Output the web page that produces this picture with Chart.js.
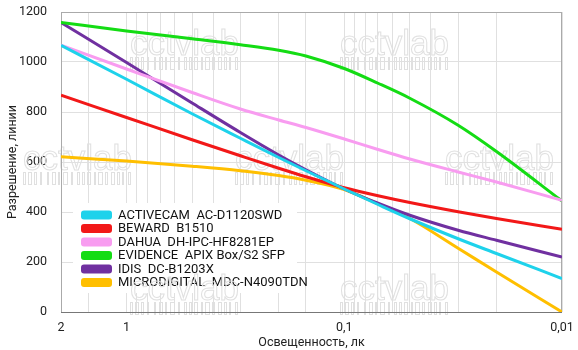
<!DOCTYPE html>
<html>
<head>
<meta charset="utf-8">
<script src="https://cdn.jsdelivr.net/npm/chart.js@4.4.0/dist/chart.umd.min.js"></script>
<style>
  html, body { margin: 0; padding: 0; background: #fff; }
  #wrap { width: 578px; height: 350px; }
</style>
</head>
<body>
<div id="wrap"><canvas id="chart" width="578" height="350"></canvas></div>
<script>
// illumination, lux (log axis, reversed)
const lux = [2, 1, 0.5, 0.3, 0.2, 0.15, 0.1, 0.07, 0.05, 0.03, 0.02, 0.01];

const activecam    = [1067, 931, 793, 695, 618, 565, 492, 430, 373, 293, 234, 134];
const beward       = [867, 778, 689, 625, 575, 541, 497, 465, 438, 401, 374, 331];
const dahua        = [1067, 972, 878, 812, 768, 738, 692, 650, 612, 560, 520, 447];
const evidence     = [1158, 1124, 1093, 1069, 1047, 1024, 974, 915, 855, 747, 642, 444];
const idis         = [1158, 998, 836, 718, 628, 569, 492, 435, 387, 327, 287, 220];
const microdigital = [621, 604, 583, 565, 546, 527, 490, 432, 374, 255, 160, 0];

const names = ['ACTIVECAM  AC-D1120SWD', 'BEWARD  B1510', 'DAHUA  DH-IPC-HF8281EP',
               'EVIDENCE  APIX Box/S2 SFP', 'IDIS  DC-B1203X', 'MICRODIGITAL  MDC-N4090TDN'];
const colors = ['#1ed2eb', '#f21818', '#f89cf0', '#14dc14', '#7030a0', '#ffbf00'];

const xTickValues = [2, 1, 0.1, 0.01];
const xTickLabels = ['2', '1', '0,1', '0,01'];

const FONT = "Roboto, 'Liberation Sans', sans-serif";
Chart.defaults.font.family = FONT;
Chart.defaults.font.size = 12;
Chart.defaults.color = '#222';

function pts(vals) {
  return lux.map((x, i) => ({ x: x, y: vals[i] }));
}

const series = [activecam, beward, dahua, evidence, idis, microdigital];
const datasets = series.map((s, i) => ({
  label: names[i],
  data: pts(s),
  borderColor: colors[i],
  backgroundColor: colors[i],
  borderWidth: 3,
  pointRadius: 0,
  fill: false,
  cubicInterpolationMode: 'monotone'
}));

// faint "cctvlab" stamps behind the lines
const barcode = [2,1,3,1,2,2,1,4,1,2,3,1,1,2,4,2,1,3,2,1,2,1,3,2,1,1,4,1,2,2,3,1,2,1,1,3,2,2,1,4,1,2];
function stamp(ctx, x, base) {
  ctx.save();
  ctx.strokeStyle = '#e0e0e0';
  ctx.lineWidth = 1;
  ctx.font = "35px 'Liberation Sans', Arial, sans-serif";
  ctx.textBaseline = 'alphabetic';
  ctx.strokeText('cctvlab', x, base);
  let bx = x;
  let k = 0;
  while (bx < x + 106) {
    const w = barcode[k % barcode.length];
    if (k % 2 === 0) ctx.strokeRect(bx + 0.5, base + 2.5, w, 12);
    bx += w + 1;
    k++;
  }
  ctx.restore();
}

const decor = {
  id: 'decor',
  beforeDatasetsDraw(chart) {
    const ctx = chart.ctx;
    const a = chart.chartArea;

    // legend box
    const lx = a.left + 12, ly = a.top + 191;
    ctx.save();
    ctx.fillStyle = '#fff';
    ctx.fillRect(lx, ly, 224, 90);
    chart.data.datasets.forEach((d, i) => {
      const cy = ly + 12 + i * 13.5;
      ctx.fillStyle = d.borderColor;
      ctx.beginPath();
      ctx.roundRect(lx + 8, cy - 4.5, 31, 9, 3);
      ctx.fill();
      ctx.fillStyle = '#111';
      ctx.font = '13px ' + FONT;
      ctx.textBaseline = 'middle';
      ctx.fillText(d.label, lx + 45, cy + 0.5);
    });
    ctx.restore();

    [[130, 55], [340, 55], [23, 170], [235, 170], [445, 170], [130, 300], [340, 300]]
      .forEach(p => stamp(ctx, p[0], p[1]));

    // frame
    ctx.save();
    ctx.strokeStyle = '#aaa';
    ctx.lineWidth = 1;
    ctx.strokeRect(a.left + 0.5, a.top + 0.5, a.right - a.left - 1, a.bottom - a.top);
    ctx.strokeStyle = '#777';
    ctx.beginPath();
    ctx.moveTo(a.left, a.bottom + 0.5);
    ctx.lineTo(a.right, a.bottom + 0.5);
    ctx.stroke();
    ctx.restore();
  }
};

new Chart(document.getElementById('chart'), {
  type: 'line',
  data: { datasets: datasets },
  options: {
    responsive: false,
    animation: false,
    layout: { padding: { top: 12, right: 16, left: 0, bottom: 0 } },
    plugins: { legend: { display: false }, tooltip: { enabled: false } },
    scales: {
      x: {
        type: 'logarithmic',
        reverse: true,
        min: 0.01,
        max: 2,
        grid: { color: '#e0e0e0', drawTicks: true, tickLength: 5, tickColor: 'rgba(0,0,0,0)' },
        border: { display: false },
        ticks: {
          autoSkip: false,
          maxRotation: 0,
          padding: 3,
          font: { size: 12.5 },
          callback: function (v) {
            for (let i = 0; i < xTickValues.length; i++) {
              if (Math.abs(v - xTickValues[i]) < xTickValues[i] * 1e-6) return xTickLabels[i];
            }
            return '';
          }
        },
        title: { display: true, text: 'Освещенность, лк', font: { size: 12.5 }, padding: { top: 0, bottom: 0 } },
        afterFit: function (s) { s.height = 38; }
      },
      y: {
        min: 0,
        max: 1200,
        grid: { color: '#e0e0e0', drawTicks: true, tickLength: 11, tickColor: 'rgba(0,0,0,0)' },
        border: { display: false },
        ticks: { stepSize: 200, padding: 3, font: { size: 12.5 }, callback: v => String(v) },
        title: { display: true, text: 'Разрешение, линии', font: { size: 12.5 }, padding: { top: 5, bottom: 4 } },
        afterFit: function (s) { s.width = 61; }
      }
    }
  },
  plugins: [decor]
});
</script>
</body>
</html>
